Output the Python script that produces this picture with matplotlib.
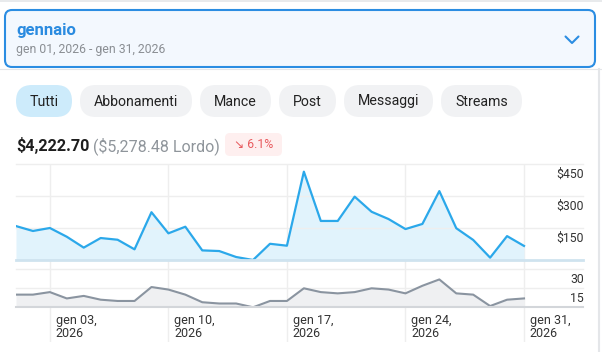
import matplotlib
matplotlib.use("Agg")
import matplotlib.pyplot as plt
from matplotlib.patches import FancyBboxPatch

plt.rcParams['font.family'] = ['Roboto', 'DejaVu Sans']

# data
days = list(range(1, 32))
net_earnings = [159, 136, 150, 109, 58, 103, 95, 50, 224, 125, 156, 45, 42, 14, 0, 76,
                67, 414, 183, 183, 297, 226, 192, 145, 169, 323, 149, 94, 11, 112, 66]
transactions = [10, 10, 12, 7, 9, 6, 5, 5, 16, 14, 10, 4, 3, 3, 0, 5,
                5, 15, 12, 11, 12, 15, 14, 11, 17, 22, 11, 10, 1, 6, 7]
tick_days = [3, 10, 17, 24, 31]
tick_labels = ["gen 03,\n2026", "gen 10,\n2026", "gen 17,\n2026", "gen 24,\n2026", "gen 31,\n2026"]
money_ticks = [150, 300, 450]
count_ticks = [15, 30]
filters = ["Tutti", "Abbonamenti", "Mance", "Post", "Messaggi", "Streams"]
period_title = "gennaio"
period_range = "gen 01, 2026 - gen 31, 2026"
net_total = "$4,222.70"
gross_total = "($5,278.48 Lordo)"
change = "↘ 6.1%"

W, H = 602, 352
BLUE = '#2BA8EA'
GRID = '#EEEEEE'


def px_rect(x0, y0, x1, y1):
    return [x0 / W, 1 - y1 / H, (x1 - x0) / W, (y1 - y0) / H]


fig = plt.figure(figsize=(W / 100, H / 100), dpi=100)

# ---- ui layer in pixel coords
ui = fig.add_axes([0, 0, 1, 1], zorder=0)
ui.set_xlim(0, W)
ui.set_ylim(H, 0)
ui.axis('off')

ui.plot([0, W], [0.5, 0.5], color='#E4E6E9', lw=1.2)
ui.plot([0, W], [68.5, 68.5], color='#E4E6E9', lw=0.8)
ui.plot([598.5, 598.5], [69, H], color='#E4E6E9', lw=1.5)

ui.add_patch(FancyBboxPatch((5, 10), 590, 57, boxstyle="round,pad=0,rounding_size=7",
                            fc='#F3F8FE', ec='#2B8DE2', lw=1.5))
ui.text(16, 34.5, period_title, fontsize=12, fontweight='bold', color='#2A8BE0', va='baseline')
ui.text(16, 53.3, period_range, fontsize=8.8, color='#8A8E93', va='baseline')
ui.plot([565.5, 572, 578.5], [36.5, 43, 36.5], color='#2B8DE2', lw=1.5,
        solid_capstyle='round', solid_joinstyle='round')

pill_x = [(16, 72), (80, 192), (200, 271), (279, 336), (344, 433), (441, 522)]
for i, (name, (x0, x1)) in enumerate(zip(filters, pill_x)):
    fc = '#CDEBFB' if i == 0 else '#F1F2F4'
    ui.add_patch(FancyBboxPatch((x0, 85), x1 - x0, 32, boxstyle="round,pad=0,rounding_size=16",
                                fc=fc, ec='none'))
    ui.text((x0 + x1) / 2, 105.5, name, fontsize=10.2, color='#222222', ha='center', va='baseline')

ui.text(16, 151, net_total, fontsize=11.6, fontweight='bold', color='#1E1E1E', va='baseline')
ui.text(93, 151, gross_total, fontsize=11.5, color='#8F959B', va='baseline')
ui.add_patch(FancyBboxPatch((225, 133), 57, 23, boxstyle="round,pad=0,rounding_size=5",
                            fc='#FEEFEF', ec='none'))
ui.text(253.5, 148.5, change, fontsize=8.8, color='#E85A5E', ha='center', va='baseline')

# ---- charts
day_px = (524 - 16) / 30
x_max = 1 + (583 - 16) / day_px

ax_grid = fig.add_axes(px_rect(16, 164, 583, 342), zorder=1)
ax_grid.set_xlim(1, x_max)
ax_grid.set_ylim(0, 1)
ax_grid.axis('off')
for d in tick_days:
    ax_grid.axvline(d, color=GRID, lw=1)

ax_top = fig.add_axes(px_rect(16, 164, 583, 260), zorder=2)
ax_top.patch.set_alpha(0)
ax_top.set_xlim(1, x_max)
ax_top.set_ylim(0, 450)
ax_top.axis('off')
for v in money_ticks:
    ax_top.axhline(v, color=GRID, lw=1, clip_on=False)
    ax_top.annotate(f"${v}", xy=(1, v), xycoords=('axes fraction', 'data'),
                    xytext=(0.5, -9.6), textcoords='offset points',
                    ha='right', va='baseline', fontsize=8.8, color='#333333')
ax_top.fill_between(days, net_earnings, 0, color='#E1F3FC', lw=0)
ax_top.plot(days, net_earnings, color=BLUE, lw=1.6)
ax_top.axhline(0, color='#CFE3EF', lw=2, clip_on=False)

ax_bot = fig.add_axes(px_rect(16, 269.3, 583, 307.3), zorder=2)
ax_bot.patch.set_alpha(0)
ax_bot.set_xlim(1, x_max)
ax_bot.set_ylim(0, 30)
ax_bot.axis('off')
for v in count_ticks:
    ax_bot.axhline(v, color=GRID, lw=1, clip_on=False)
    ax_bot.annotate(str(v), xy=(1, v), xycoords=('axes fraction', 'data'),
                    xytext=(0.5, -9.6), textcoords='offset points',
                    ha='right', va='baseline', fontsize=8.8, color='#333333')
ax_bot.fill_between(days, transactions, 0, color='#EFF0F2', lw=0)
ax_bot.plot(days, transactions, color='#8A94A0', lw=1.5)
ax_bot.axhline(0, color='#D3D6DA', lw=1.5, clip_on=False)

for d, lab in zip(tick_days, tick_labels):
    ax_bot.annotate(lab, xy=(d, 0), xycoords=('data', 'axes fraction'),
                    xytext=(4.2, -5), textcoords='offset points',
                    ha='left', va='top', fontsize=9, color='#333333', linespacing=1.0)

fig.savefig("out.png", dpi=100)
